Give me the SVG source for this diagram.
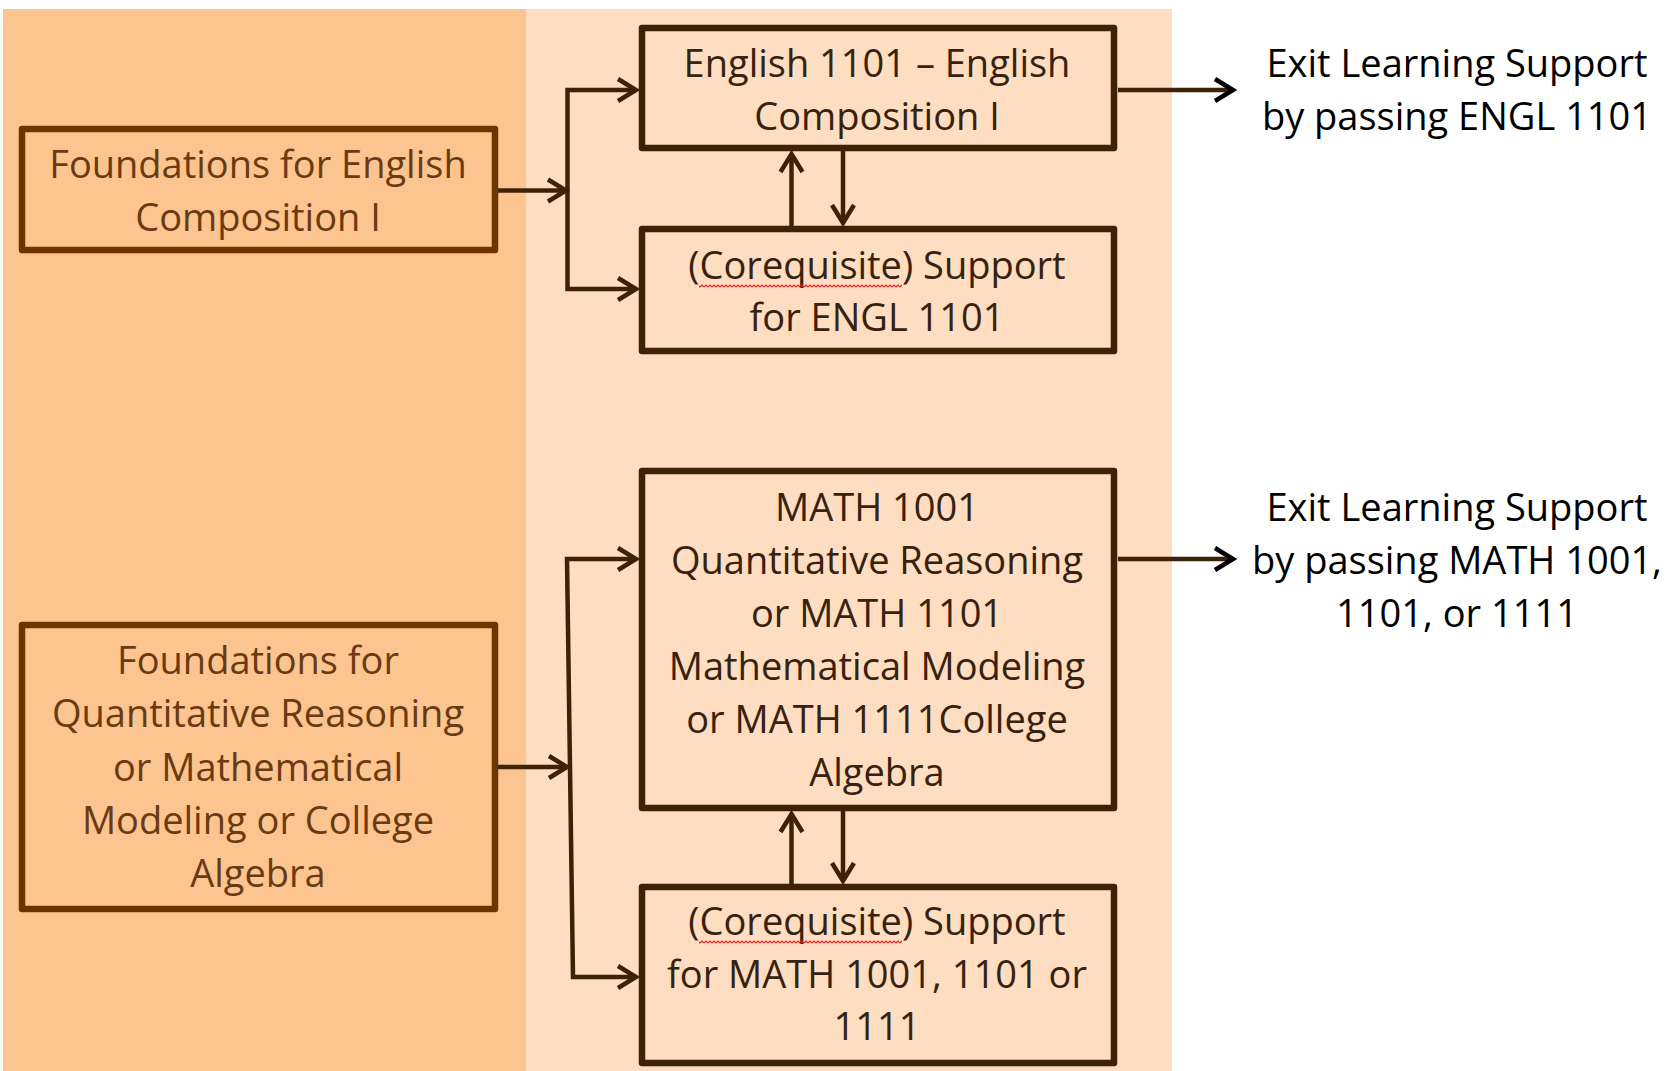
<svg xmlns="http://www.w3.org/2000/svg" width="1679" height="1071" viewBox="0 0 1679 1071">
<style>
.t{font-family:"Open Sans","Liberation Sans",sans-serif;font-size:38px;text-anchor:middle}
.fd{fill:#6A3A12}
.rt{fill:#36220F}
.ex{fill:#000000}
.fb{fill:none;stroke:#6E3400;stroke-width:6.5;stroke-linejoin:round}
.rb{fill:none;stroke:#3E2208;stroke-width:6.5;stroke-linejoin:round}
.c{fill:none;stroke:#3E2208;stroke-width:4.5}
</style>
<defs>
<marker id="ahD" markerUnits="userSpaceOnUse" markerWidth="40" markerHeight="40" viewBox="-30 -20 40 40" refX="0" refY="0" orient="auto-start-reverse" overflow="visible">
<path d="M-18,-11 L0,0 L-18,11" fill="none" stroke="#3E2208" stroke-width="4.5"/>
</marker>
<marker id="ahK" markerUnits="userSpaceOnUse" markerWidth="40" markerHeight="40" viewBox="-30 -20 40 40" refX="0" refY="0" orient="auto" overflow="visible">
<path d="M-18,-11 L0,0 L-18,11" fill="none" stroke="#000000" stroke-width="4.5"/>
</marker>
<linearGradient id="gL" gradientUnits="userSpaceOnUse" x1="0" y1="0" x2="1679" y2="0">
<stop offset="0.3133" stop-color="#6E3400"/>
<stop offset="0.3133" stop-color="#3E2208"/>
</linearGradient>
<linearGradient id="gE" gradientUnits="userSpaceOnUse" x1="0" y1="0" x2="1679" y2="0">
<stop offset="0.698" stop-color="#3E2208"/>
<stop offset="0.698" stop-color="#000000"/>
</linearGradient>
<pattern id="squig" patternUnits="userSpaceOnUse" width="4" height="4">
<path d="M0,3 L2,1 L4,3" fill="none" stroke="#E02020" stroke-width="1.2"/>
</pattern>
</defs>

<g id="background">
<rect x="0" y="0" width="1679" height="1071" fill="#FFFFFF"/>
<rect x="3" y="9" width="523" height="1062" fill="#FCC590"/>
<rect x="526" y="9" width="646" height="1062" fill="#FEDDC0"/>
</g>

<g id="connectors">
<path class="c" stroke="url(#gL)" d="M498,190.5 H566" marker-end="url(#ahD)"/>
<path class="c" d="M636,90 H567.5 V289 H636" marker-start="url(#ahD)" marker-end="url(#ahD)"/>
<path class="c" d="M791.5,226 V154" marker-end="url(#ahD)"/>
<path class="c" d="M843,151 V223" marker-end="url(#ahD)"/>
<path class="c" stroke="url(#gE)" d="M1118,90 H1233" marker-end="url(#ahK)"/>

<path class="c" stroke="url(#gL)" d="M498,767 H567" marker-end="url(#ahD)"/>
<path class="c" d="M636,559 H567 L573,977 H636" marker-start="url(#ahD)" marker-end="url(#ahD)"/>
<path class="c" d="M791.5,884 V814" marker-end="url(#ahD)"/>
<path class="c" d="M843,811 V881" marker-end="url(#ahD)"/>
<path class="c" stroke="url(#gE)" d="M1118,559 H1233" marker-end="url(#ahK)"/>
</g>

<g id="n-found-engl">
<rect class="fb" x="22" y="129" width="473" height="121"/>
<text class="t fd" x="258" y="178">Foundations for English</text>
<text class="t fd" x="258" y="231">Composition I</text>
</g>

<g id="n-engl1101">
<rect class="rb" x="642" y="28" width="472" height="120"/>
<text class="t rt" x="877" y="77">English 1101 – English</text>
<text class="t rt" x="877" y="130">Composition I</text>
</g>

<g id="n-coreq-engl">
<rect class="rb" x="642" y="229" width="472" height="122"/>
<text class="t rt" x="877" y="279">(Corequisite) Support</text>
<text class="t rt" x="877" y="331">for ENGL 1101</text>
<rect x="699" y="284" width="203" height="4" fill="url(#squig)"/>
</g>

<g id="n-exit-engl">
<text class="t ex" x="1457" y="77">Exit Learning Support</text>
<text class="t ex" x="1457" y="130">by passing ENGL 1101</text>
</g>

<g id="n-math">
<rect class="rb" x="642" y="471" width="472" height="337"/>
<text class="t rt" x="877" y="521">MATH 1001</text>
<text class="t rt" x="877" y="574">Quantitative Reasoning</text>
<text class="t rt" x="877" y="627">or MATH 1101</text>
<text class="t rt" x="877" y="680">Mathematical Modeling</text>
<text class="t rt" x="877" y="733">or MATH 1111College</text>
<text class="t rt" x="877" y="786">Algebra</text>
</g>

<g id="n-coreq-math">
<rect class="rb" x="642" y="887" width="472" height="176"/>
<text class="t rt" x="877" y="935">(Corequisite) Support</text>
<text class="t rt" x="877" y="988">for MATH 1001, 1101 or</text>
<text class="t rt" x="877" y="1040">1111</text>
<rect x="699" y="940" width="203" height="4" fill="url(#squig)"/>
</g>

<g id="n-found-math">
<rect class="fb" x="22" y="625" width="473" height="284"/>
<text class="t fd" x="258" y="674">Foundations for</text>
<text class="t fd" x="258" y="727">Quantitative Reasoning</text>
<text class="t fd" x="258" y="781">or Mathematical</text>
<text class="t fd" x="258" y="834">Modeling or College</text>
<text class="t fd" x="258" y="887">Algebra</text>
</g>

<g id="n-exit-math">
<text class="t ex" x="1457" y="521">Exit Learning Support</text>
<text class="t ex" x="1457" y="574">by passing MATH 1001,</text>
<text class="t ex" x="1457" y="627">1101, or 1111</text>
</g>
</svg>
